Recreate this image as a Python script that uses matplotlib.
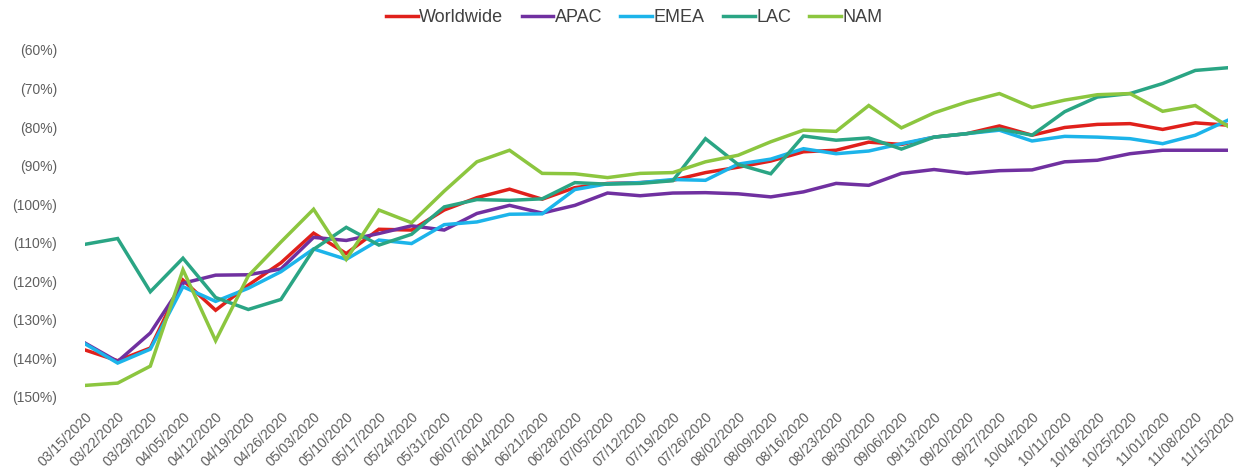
import matplotlib
matplotlib.use("Agg")
import matplotlib.pyplot as plt
from matplotlib.ticker import FuncFormatter

plt.rcParams["font.family"] = ["Liberation Sans", "DejaVu Sans"]

weeks = [
    "03/15/2020", "03/22/2020", "03/29/2020", "04/05/2020", "04/12/2020", "04/19/2020",
    "04/26/2020", "05/03/2020", "05/10/2020", "05/17/2020", "05/24/2020", "05/31/2020",
    "06/07/2020", "06/14/2020", "06/21/2020", "06/28/2020", "07/05/2020", "07/12/2020",
    "07/19/2020", "07/26/2020", "08/02/2020", "08/09/2020", "08/16/2020", "08/23/2020",
    "08/30/2020", "09/06/2020", "09/13/2020", "09/20/2020", "09/27/2020", "10/04/2020",
    "10/11/2020", "10/18/2020", "10/25/2020", "11/01/2020", "11/08/2020", "11/15/2020",
]

# Year-over-year change (%), all negative
worldwide = [-137.8, -140.6, -137.3, -119.7, -127.5, -121.0, -115.2, -107.5, -112.8, -106.5,
             -106.7, -101.5, -98.3, -96.1, -98.7, -95.7, -94.6, -94.4, -93.8, -91.8,
             -90.4, -88.8, -86.4, -86.0, -83.9, -84.5, -82.6, -81.7, -79.7, -82.1,
             -80.1, -79.3, -79.1, -80.6, -78.9, -79.5]
apac = [-136.0, -140.8, -133.4, -120.5, -118.4, -118.3, -116.8, -108.6, -109.4, -107.6,
        -105.6, -106.7, -102.4, -100.3, -102.3, -100.3, -97.1, -97.8, -97.1, -97.0,
        -97.3, -98.1, -96.8, -94.6, -95.1, -92.0, -91.0, -92.0, -91.3, -91.1,
        -89.0, -88.6, -86.9, -86.0, -86.0, -86.0]
emea = [-136.2, -141.2, -137.6, -121.4, -125.2, -121.8, -117.5, -111.6, -114.3, -109.3,
        -110.2, -105.3, -104.6, -102.6, -102.5, -96.2, -94.7, -94.4, -93.6, -93.8,
        -89.6, -88.3, -85.6, -86.9, -86.2, -84.3, -82.6, -81.7, -80.8, -83.6,
        -82.4, -82.6, -83.0, -84.3, -82.1, -78.2]
lac = [-110.4, -108.9, -122.7, -114.0, -124.2, -127.3, -124.7, -111.7, -106.0, -110.6,
       -107.8, -100.7, -98.8, -99.0, -98.6, -94.4, -94.8, -94.6, -93.9, -83.0,
       -89.7, -92.1, -82.3, -83.4, -82.8, -85.7, -82.6, -81.7, -80.5, -82.1,
       -76.0, -72.2, -71.3, -68.7, -65.3, -64.6]
nam = [-147.0, -146.4, -142.0, -117.0, -135.4, -118.6, -109.8, -101.3, -114.3, -101.5,
       -104.8, -96.6, -89.0, -86.0, -92.0, -92.1, -93.1, -92.0, -91.8, -89.0,
       -87.3, -83.8, -80.8, -81.1, -74.4, -80.2, -76.3, -73.5, -71.3, -74.9,
       -73.0, -71.6, -71.3, -75.9, -74.4, -79.8]

series = [
    ("Worldwide", worldwide, "#e0201b"),
    ("APAC", apac, "#7030a0"),
    ("EMEA", emea, "#1cb4ea"),
    ("LAC", lac, "#2aa584"),
    ("NAM", nam, "#8cc63f"),
]

fig = plt.figure(figsize=(12.39, 4.73), dpi=100)
ax = fig.add_axes([0.0686, 0.1607, 0.9225, 0.7336])

x = list(range(len(weeks)))
for name, vals, color in series:
    ax.plot(x, vals, color=color, lw=2.5, label=name, solid_joinstyle="miter")

ax.set_xlim(0, len(weeks) - 1)
ax.set_ylim(-150, -60)
ax.set_yticks(range(-150, -59, 10))
ax.yaxis.set_major_formatter(FuncFormatter(lambda v, p: f"({abs(v):.0f}%)"))
ax.set_xticks(x)
ax.set_xticklabels(weeks, rotation=45, ha="right", rotation_mode="anchor")

ax.tick_params(axis="y", length=0, pad=20, labelsize=10, labelcolor="#5f5f5f")
ax.tick_params(axis="x", length=0, pad=9, labelsize=10, labelcolor="#5f5f5f")
for s in ax.spines.values():
    s.set_visible(False)

fig.legend(loc="center", bbox_to_anchor=(0.512, 0.962), ncol=5, frameon=False,
           fontsize=13, handlelength=1.75, handletextpad=0.1, columnspacing=1.0,
           labelcolor="#404040")

fig.savefig("out.png", dpi=100, facecolor="white")
